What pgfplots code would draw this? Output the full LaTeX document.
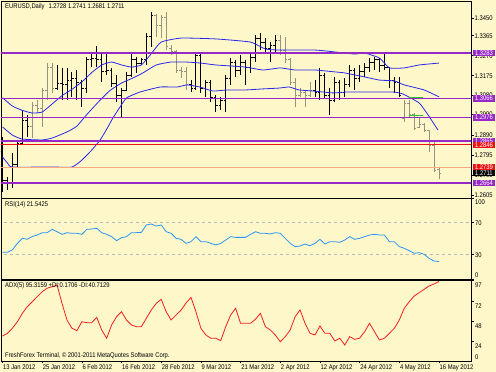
\documentclass[border=0pt]{standalone}
\usepackage{fontspec}
\setmainfont{Liberation Sans}[FakeStretch=0.86]
\usepackage{pgfplots}
\usepackage{pgfplotstable}
\pgfplotsset{compat=1.18}
\definecolor{bg}{RGB}{253,247,202}
\definecolor{mtpurple}{RGB}{150,40,200}
\definecolor{bandblue}{RGB}{40,40,235}
\definecolor{rsiblue}{RGB}{40,150,245}
\definecolor{adxred}{RGB}{245,30,30}
\definecolor{lvlred}{RGB}{235,20,20}
\definecolor{lvlsalmon}{RGB}{245,170,130}
\definecolor{bargray}{RGB}{150,148,128}
\definecolor{mtgreen}{RGB}{40,200,40}
\newcommand{\mtf}{\fontsize{6.8}{7.5}\selectfont}

\pgfplotstableread{
i open high low close
0 1.2816 1.2883 1.2621 1.2678
1 1.2678 1.2693 1.2631 1.2664
2 1.2664 1.2807 1.2640 1.2750
3 1.2750 1.2869 1.2735 1.2854
4 1.2854 1.3012 1.2850 1.2964
5 1.2964 1.2988 1.2883 1.2931
11 1.3116 1.3226 1.3107 1.3140
12 1.3140 1.3212 1.3059 1.3135
13 1.3135 1.3212 1.3059 1.3154
14 1.3154 1.3193 1.3074 1.3164
15 1.3164 1.3202 1.3059 1.3145
16 1.3145 1.3154 1.3026 1.3116
17 1.3116 1.3264 1.3093 1.3250
18 1.3250 1.3283 1.3216 1.3259
19 1.3259 1.3316 1.3216 1.3250
20 1.3250 1.3288 1.3145 1.3193
21 1.3193 1.3283 1.3178 1.3202
22 1.3202 1.3212 1.3121 1.3140
23 1.3140 1.3178 1.3050 1.3083
24 1.3083 1.3116 1.2973 1.3107
25 1.3107 1.3193 1.3102 1.3178
26 1.3178 1.3283 1.3169 1.3250
27 1.3250 1.3264 1.3188 1.3235
28 1.3235 1.3259 1.3226 1.3250
29 1.3250 1.3378 1.3226 1.3364
30 1.3364 1.3478 1.3312 1.3464
38 1.3131 1.3154 1.3097 1.3116
39 1.3116 1.3288 1.3107 1.3273
40 1.3273 1.3283 1.3093 1.3116
41 1.3116 1.3154 1.3074 1.3145
42 1.3145 1.3154 1.3050 1.3069
43 1.3069 1.3083 1.3002 1.3035
44 1.3035 1.3074 1.3012 1.3059
45 1.3059 1.3178 1.3002 1.3164
46 1.3164 1.3259 1.3131 1.3240
47 1.3240 1.3250 1.3169 1.3202
48 1.3202 1.3273 1.3178 1.3240
49 1.3240 1.3250 1.3131 1.3212
50 1.3212 1.3283 1.3188 1.3264
51 1.3264 1.3369 1.3240 1.3354
52 1.3354 1.3378 1.3297 1.3335
53 1.3335 1.3354 1.3283 1.3307
54 1.3307 1.3335 1.3240 1.3321
55 1.3321 1.3369 1.3283 1.3345
63 1.3107 1.3154 1.3074 1.3097
64 1.3097 1.3212 1.3059 1.3178
65 1.3178 1.3188 1.3069 1.3083
66 1.3083 1.3116 1.2988 1.3059
67 1.3059 1.3169 1.3050 1.3145
68 1.3145 1.3154 1.3059 1.3097
69 1.3097 1.3164 1.3074 1.3131
70 1.3131 1.3226 1.3121 1.3202
71 1.3202 1.3212 1.3107 1.3164
72 1.3164 1.3226 1.3145 1.3193
73 1.3193 1.3235 1.3169 1.3212
74 1.3212 1.3259 1.3193 1.3240
75 1.3240 1.3264 1.3202 1.3250
76 1.3250 1.3259 1.3193 1.3226
77 1.3226 1.3283 1.3202 1.3212
78 1.3212 1.3216 1.3116 1.3154
79 1.3154 1.3169 1.3093 1.3145
80 1.3145 1.3169 1.3074 1.3083
}\barsblack

\pgfplotstableread{
i open high low close
6 1.2931 1.3050 1.2878 1.3035
7 1.3035 1.3059 1.2997 1.3021
8 1.3021 1.3116 1.2931 1.3107
9 1.3107 1.3235 1.3059 1.3212
10 1.3212 1.3235 1.3093 1.3116
31 1.3464 1.3468 1.3359 1.3416
32 1.3416 1.3464 1.3354 1.3450
33 1.3450 1.3480 1.3297 1.3312
34 1.3307 1.3321 1.3273 1.3288
35 1.3288 1.3297 1.3188 1.3202
36 1.3202 1.3216 1.3164 1.3193
37 1.3193 1.3216 1.3107 1.3131
56 1.3345 1.3369 1.3273 1.3297
57 1.3297 1.3359 1.3235 1.3250
58 1.3250 1.3259 1.3131 1.3145
59 1.3145 1.3164 1.3026 1.3083
60 1.3083 1.3116 1.3074 1.3097
61 1.3097 1.3107 1.3026 1.3083
62 1.3083 1.3145 1.3074 1.3107
81 1.2973 1.3059 1.2954 1.3045
82 1.3045 1.3059 1.2978 1.2988
83 1.2988 1.2997 1.2916 1.2926
84 1.2930 1.2978 1.2926 1.2945
85 1.2945 1.2950 1.2907 1.2916
86 1.2916 1.2916 1.2812 1.2845
87 1.2845 1.2869 1.2716 1.2726
88 1.2728 1.2741 1.2681 1.2711
}\barsgray

\pgfplotsset{
  mtaxis/.style={scale only axis, width=470pt, anchor=south west,
    xmin=-0.302, xmax=94.456, axis line style={black, line width=0.9pt},
    clip mode=individual, tick style={black, line width=0.6pt},
    major tick length=2.5pt, ytick pos=right, yticklabel pos=right,
    ytick align=outside, xtick align=outside},
}
\tikzset{
  lbl/.style={anchor=west, font=\mtf, text=white, inner sep=0pt, minimum width=21.5pt, minimum height=6.5pt},
  rl/.style={anchor=west, font=\mtf, inner sep=0pt},
}
% one OHLC series: high-low stroke, open tick to the left, close tick to the right
\newcommand{\ohlc}[2]{%
  \addplot[#2, line width=0.9pt, mark=none, quiver={u=0, v=\thisrow{high}-\thisrow{low}}]
    table[x=i, y=low] {#1};
  \addplot[#2, line width=0.9pt, mark=none, quiver={u=-0.42, v=0}]
    table[x=i, y=open] {#1};
  \addplot[#2, line width=0.9pt, mark=none, quiver={u=0.42, v=0}]
    table[x=i, y=close] {#1};
}

\begin{document}
\begin{tikzpicture}
\fill[bg] (0,0) rectangle (496pt,372pt);

% ---------------- main price panel ----------------
\begin{axis}[mtaxis, at={(1pt,174pt)}, height=197pt,
  ymin=1.25925, ymax=1.35306, xtick=\empty,
  ytick={1.2605,1.2700,1.2795,1.2890,1.2990,1.3080,1.3175,1.3270,1.3365,1.3450},
  yticklabels={1.2605,1.2700,1.2795,1.2890,1.2990,1.3080,1.3175,1.3270,1.3365,1.3450},
  yticklabel style={font=\mtf, anchor=west, inner sep=0pt, xshift=1pt}]
\ohlc{\barsblack}{black}
\ohlc{\barsgray}{bargray}
% bands
\addplot[bandblue, line width=0.8pt, smooth, tension=0.3] coordinates {
(0,1.3070) (2,1.3030) (4,1.3010) (6,1.2997) (8,1.3002) (10,1.3040) (12,1.3080) (14,1.3110)
(16,1.3145) (18,1.3190) (20,1.3226) (22,1.3240) (24,1.3226) (26,1.3216) (28,1.3226) (30,1.3280)
(32,1.3335) (36,1.3354) (43,1.3350) (50,1.3335) (53,1.3302) (56,1.3297) (63,1.3297) (67,1.3288)
(71,1.3278) (73,1.3283) (76,1.3259) (78,1.3212) (81,1.3212) (84,1.3226) (88,1.3235)};
\addplot[bandblue, line width=0.8pt, smooth, tension=0.3] coordinates {
(0,1.2931) (2,1.2892) (4,1.2873) (8,1.2869) (10,1.2878) (13,1.2907) (15,1.2935) (17,1.2990)
(19.7,1.3059) (21.7,1.3105) (24,1.3140) (26.3,1.3164) (28.3,1.3188) (31,1.3226) (34,1.3240)
(37,1.3240) (40,1.3235) (43,1.3226) (49,1.3216) (52.5,1.3202) (56,1.3212) (59,1.3202) (63,1.3202)
(67,1.3193) (69,1.3188) (73,1.3169) (76,1.3154) (79,1.3150) (81,1.3131) (85,1.3107) (88,1.3074)};
\addplot[bandblue, line width=0.8pt, smooth, tension=0.3] coordinates {
(0,1.2788) (1,1.2759) (2,1.2740) (10,1.2740) (14,1.2740) (16,1.2773) (18,1.2821) (19.7,1.2869)
(21,1.2920) (22.3,1.2975) (23.7,1.3026) (25,1.3069) (27.7,1.3097) (31.8,1.3121) (35.2,1.3121)
(37.2,1.3131) (39.8,1.3121) (42.4,1.3102) (45.3,1.3107) (49,1.3107) (52.5,1.3112) (55.8,1.3116)
(57.8,1.3121) (59.8,1.3107) (62.6,1.3102) (66.6,1.3093) (69.3,1.3097) (72.7,1.3097) (78.7,1.3097)
(80.7,1.3088) (84,1.3045) (85.8,1.2988) (87.8,1.2916)};
% levels
\addplot[mtpurple, line width=1.6pt] coordinates {(-1,1.3283) (96,1.3283)};
\addplot[mtpurple, line width=1.6pt] coordinates {(-1,1.3066) (96,1.3066)};
\addplot[mtpurple, line width=1.6pt] coordinates {(-1,1.2976) (96,1.2976)};
\addplot[mtpurple, line width=1.6pt] coordinates {(-1,1.2865) (96,1.2865)};
\addplot[mtpurple, line width=1.6pt] coordinates {(-1,1.2664) (96,1.2664)};
\addplot[lvlred, line width=0.9pt] coordinates {(-1,1.2846) (96,1.2846)};
\addplot[lvlsalmon, line width=0.9pt] coordinates {(-1,1.2739) (96,1.2739)};
\addplot[mtgreen, line width=1pt] coordinates {(81.9,1.3069) (84.8,1.3069)};
\addplot[mtgreen, line width=1pt] coordinates {(81.9,1.2983) (84.8,1.2983)};
\node[rl] at ([xshift=4pt, yshift=-6pt]rel axis cs:0,1)
  {EURUSD,Daily\hspace{4pt}1.2728 1.2741 1.2681 1.2711};
\coordinate (L1) at (axis cs:94.456,1.3283);
\coordinate (L2) at (axis cs:94.456,1.3066);
\coordinate (L3) at (axis cs:94.456,1.2976);
\coordinate (L4) at (axis cs:94.456,1.2865);
\coordinate (L5) at (axis cs:94.456,1.2846);
\coordinate (L6) at (axis cs:94.456,1.2739);
\coordinate (L7) at (axis cs:94.456,1.2711);
\coordinate (L8) at (axis cs:94.456,1.2664);
\end{axis}
\node[lbl, fill=mtpurple] at ([xshift=2pt]L1) {1.3283};
\node[lbl, fill=mtpurple] at ([xshift=2pt]L2) {1.3066};
\node[lbl, fill=mtpurple] at ([xshift=2pt]L3) {1.2976};
\node[lbl, fill=mtpurple] at ([xshift=2pt]L4) {1.2865};
\node[lbl, fill=lvlred] at ([xshift=2pt]L5) {1.2846};
\node[lbl, fill=lvlred] at ([xshift=2pt]L6) {1.2739};
\node[lbl, fill=black] at ([xshift=2pt]L7) {1.2711};
\node[lbl, fill=mtpurple] at ([xshift=2pt]L8) {1.2664};

% ---------------- RSI panel ----------------
\begin{axis}[mtaxis, at={(1pt,93pt)}, height=81pt, ymin=0, ymax=100,
  xtick=\empty, ytick={0,30,70,100}, yticklabels={{},{},{},{}}]
\addplot[gray!55, dashed, line width=0.5pt] coordinates {(-1,70) (96,70)};
\addplot[gray!55, dashed, line width=0.5pt] coordinates {(-1,30) (96,30)};
\addplot[rsiblue, line width=0.8pt] coordinates {
(0,33) (1,33) (2,36) (3,44) (4,50.2) (5,49) (6,52.3) (7,54.3) (8,57.2) (9,57.2) (10,61.3)
(11,58.4) (12,55.1) (13,57.2) (14,56.4) (15,56.4) (16,55.1) (17,61.3) (18,61.7) (19,62.6)
(20,57.2) (21,55.1) (22,52.3) (23,47.3) (24,51) (25,52.3) (26,57.2) (27,57.2) (28,57.6)
(29,66.7) (30,67.9) (31,65.4) (32,66.7) (33,58.4) (34,56.4) (35,50.2) (36,49) (37,44)
(38,46.1) (39,52.3) (40,46.1) (41,46.1) (42,44) (43,42) (44,44) (45,48.1) (46,52.3)
(47,51.4) (48,51.4) (49,51.4) (50,55) (51,58.4) (52,56.4) (53,56.4) (54,55.6) (55,57.2)
(56,56.4) (57,50.2) (58,44) (59,39.9) (60,40.7) (61,43.2) (62,41.1) (63,44) (64,49)
(65,43.2) (66,46.1) (67,46.1) (68,45.3) (69,48.1) (70,52.3) (71,49) (72,50.2) (73,52.3)
(74,54.3) (75,55.1) (76,54.3) (77,54.3) (78,46.1) (79,46.1) (80,39.9) (81,37.9) (82,35)
(83,31.7) (84,32.5) (85,30.5) (86,25.5) (87,22.2) (88,21.54)};
\node[rl] at ([xshift=4pt, yshift=-6.5pt]rel axis cs:0,1) {RSI(14) 21.5425};
\node[rl] at ([xshift=4pt]rel axis cs:1,0.95) {100};
\node[rl] at ([xshift=4pt]rel axis cs:1,0.69) {70};
\node[rl] at ([xshift=4pt]rel axis cs:1,0.30) {30};
\node[rl] at ([xshift=4pt]rel axis cs:1,0.05) {0};
\end{axis}

% ---------------- ADX panel ----------------
\begin{axis}[mtaxis, at={(1pt,11pt)}, height=81pt, ymin=0, ymax=97.2,
  ytick={24,48,72,97}, yticklabels={{},{},{},{}},
  xtick={0,8,...,88}, xtick pos=bottom,
  xticklabels={13 Jan 2012,25 Jan 2012,6 Feb 2012,16 Feb 2012,28 Feb 2012,9 Mar 2012,21 Mar 2012,2 Apr 2012,12 Apr 2012,24 Apr 2012,4 May 2012,16 May 2012},
  xticklabel style={font=\mtf, anchor=north west, inner sep=0pt, xshift=0.5pt, yshift=-1pt}]
\addplot[adxred, line width=0.8pt] coordinates {
(0,30.0) (1,33.2) (2,39.3) (3,47.1) (4,57.2) (5,65.2) (6,71.1) (7,77.2) (8,83.1) (9,87.3)
(10,89.2) (11,91.2) (12,69.2) (13,49.2) (14,39.3) (15,36.4) (16,47.1) (17,46.0) (18,46.0)
(19,52.4) (20,37.2) (21,27.3) (22,43.2) (23,53.2) (24,59.1) (25,49.2) (26,43.2) (27,41.2)
(28,41.2) (29,51.3) (30,61.2) (31,69.2) (32,74.0) (33,59.1) (34,49.2) (35,55.2) (36,61.0)
(37,69.6) (38,76.4) (39,59.1) (40,39.3) (41,31.2) (42,27.3) (43,27.3) (44,24.4) (45,41.2)
(46,55.2) (47,63.3) (48,45.2) (49,45.2) (50,45.2) (51,50.0) (52,57.2) (53,41.2) (54,37.2)
(55,31.2) (56,23.1) (57,29.2) (58,37.2) (59,53.2) (60,61.2) (61,45.2) (62,33.2) (63,31.2)
(64,42.0) (65,33.2) (66,33.2) (67,24.0) (68,27.3) (69,19.2) (70,29.2) (71,26.0) (72,27.3)
(73,35.1) (74,45.2) (75,35.1) (76,25.2) (77,27.3) (78,33.2) (79,39.3) (80,49.2) (81,63.3)
(82,71.1) (83,78.0) (84,82.0) (85,86.0) (86,90.0) (87,92.4) (88,95.32)};
\node[rl] at ([xshift=4pt, yshift=-6pt]rel axis cs:0,1) {ADX(5) 95.3159 +DI:0.1706 -DI:40.7129};
\node[rl] at ([xshift=4pt, yshift=5pt]rel axis cs:0,0) {FreshForex Terminal, © 2001-2011 MetaQuotes Software Corp.};
\node[rl] at ([xshift=4pt]rel axis cs:1,0.938) {97};
\node[rl] at ([xshift=4pt]rel axis cs:1,0.679) {72};
\node[rl] at ([xshift=4pt]rel axis cs:1,0.432) {48};
\node[rl] at ([xshift=4pt]rel axis cs:1,0.185) {24};
\node[rl] at ([xshift=4pt]rel axis cs:1,0.053) {0};
\end{axis}
\pgfresetboundingbox
\path[use as bounding box] (0,0) rectangle (496pt,372pt);
\end{tikzpicture}
\end{document}
